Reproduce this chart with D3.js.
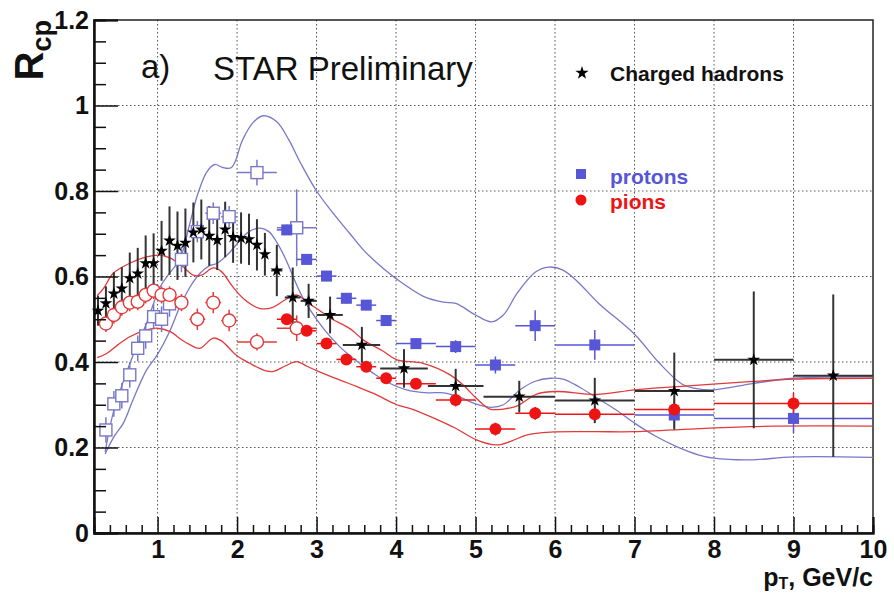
<!DOCTYPE html>
<html><head><meta charset="utf-8">
<script src="https://cdn.jsdelivr.net/npm/d3@7"></script>
<style>
body{margin:0;background:#fff}
svg{display:block}
text{font-family:"Liberation Sans",Arial,Helvetica,sans-serif}
</style>
</head><body>
<svg id="c" width="894" height="594"></svg>
<script>
// ---- axis ticks ----
const xMajor = [1,2,3,4,5,6,7,8,9,10];
const xLabels = ["1","2","3","4","5","6","7","8","9","10"];
const yMajor = [0,0.2,0.4,0.6,0.8,1.0,1.2];
const yLabels = ["0","0.2","0.4","0.6","0.8","1","1.2"];

// ---- charged hadrons (stars) ----
const hX    = [0.25,0.35,0.45,0.55,0.65,0.75,0.85,0.95,1.05,1.15,1.25,1.35,1.45,1.55,1.65,1.75,1.85,1.95,2.05,2.15,2.25,2.35,2.5,2.7,2.9,3.17,3.57,4.1,4.75,5.55,6.5,7.5,8.5,9.5];
const hY    = [0.52,0.537,0.56,0.572,0.596,0.607,0.631,0.631,0.66,0.684,0.672,0.679,0.703,0.71,0.695,0.685,0.71,0.692,0.69,0.687,0.674,0.652,0.614,0.551,0.543,0.51,0.44,0.385,0.344,0.319,0.31,0.332,0.405,0.368];
const hYerr = [0.035,0.04,0.05,0.05,0.06,0.06,0.065,0.07,0.07,0.08,0.08,0.08,0.07,0.07,0.07,0.07,0.065,0.06,0.06,0.06,0.06,0.05,0.06,0.07,0.04,0.043,0.042,0.045,0.04,0.037,0.053,0.09,0.16,0.19];
const hXlo  = [0.25,0.35,0.45,0.55,0.65,0.75,0.85,0.95,1.05,1.15,1.25,1.35,1.45,1.55,1.65,1.75,1.85,1.95,2.05,2.15,2.25,2.35,2.43,2.6,2.8,3.0,3.33,3.8,4.4,5.1,6,7,8,9];
const hXhi  = [0.25,0.35,0.45,0.55,0.65,0.75,0.85,0.95,1.05,1.15,1.25,1.35,1.45,1.55,1.65,1.75,1.85,1.95,2.05,2.15,2.25,2.35,2.57,2.8,3.0,3.33,3.8,4.4,5.1,6.0,7,8,9,10];

// ---- protons, open squares (low pT) ----
const poX    = [0.35,0.45,0.55,0.65,0.75,0.85,0.95,1.05,1.15,1.3,1.5,1.7,1.9,2.25,2.75];
const poY    = [0.241,0.302,0.321,0.37,0.432,0.461,0.506,0.5,0.536,0.64,0.705,0.748,0.74,0.843,0.714];
const poYerr = [0.03,0.03,0.03,0.03,0.03,0.03,0.03,0.03,0.03,0.03,0.025,0.025,0.025,0.03,0.09];
const poXerr = [0.03,0.03,0.03,0.03,0.03,0.03,0.03,0.03,0.03,0.05,0.1,0.1,0.1,0.25,0.25];

// ---- protons, filled squares ----
const pfX    = [2.625,2.875,3.125,3.375,3.625,3.875,4.25,4.75,5.25,5.75,6.5,7.5,9.0];
const pfY    = [0.709,0.64,0.601,0.549,0.533,0.497,0.443,0.436,0.393,0.485,0.44,0.276,0.268];
const pfYerr = [0.012,0.012,0.012,0.012,0.012,0.012,0.012,0.015,0.02,0.036,0.035,0.03,0.035];
const pfXerr = [0.125,0.125,0.125,0.125,0.125,0.125,0.25,0.25,0.25,0.25,0.5,0.5,1.0];

// ---- pions, open circles (low pT) ----
const ioX    = [0.35,0.45,0.55,0.65,0.75,0.85,0.95,1.05,1.15,1.3,1.5,1.7,1.9,2.25,2.75];
const ioY    = [0.49,0.51,0.528,0.539,0.541,0.557,0.567,0.557,0.557,0.539,0.5,0.539,0.497,0.447,0.479];
const ioYerr = [0.02,0.02,0.02,0.02,0.02,0.02,0.02,0.02,0.02,0.02,0.025,0.025,0.025,0.02,0.03];
const ioXerr = [0.03,0.03,0.03,0.03,0.03,0.03,0.03,0.03,0.03,0.05,0.1,0.1,0.1,0.25,0.25];

// ---- pions, filled circles ----
const ifX    = [2.625,2.875,3.125,3.375,3.625,3.875,4.25,4.75,5.25,5.75,6.5,7.5,9.0];
const ifY    = [0.5,0.473,0.443,0.406,0.389,0.362,0.349,0.311,0.243,0.28,0.278,0.289,0.303];
const ifYerr = [0.012,0.012,0.012,0.012,0.012,0.012,0.012,0.015,0.015,0.015,0.018,0.025,0.025];
const ifXerr = [0.125,0.125,0.125,0.125,0.125,0.125,0.25,0.25,0.25,0.25,0.5,0.5,1.0];

// ---- model curves ----
const blueUpX = [0.34,0.44,0.57,0.7,0.86,1.03,1.16,1.28,1.4,1.5,1.62,1.72,1.82,1.93,2.07,2.2,2.33,2.5,2.65,2.8,3.0,3.2,3.42,3.6,3.8,4.0,4.35,4.6,4.75,5.0,5.2,5.35,5.52,5.75,5.92,6.1,6.3,6.55,7.0,7.3,7.6,7.8,8.0,8.5,9.0,10];
const blueUpY = [0.19,0.28,0.355,0.42,0.49,0.575,0.61,0.64,0.72,0.79,0.845,0.862,0.855,0.855,0.92,0.96,0.976,0.962,0.92,0.865,0.80,0.75,0.70,0.66,0.625,0.595,0.553,0.54,0.537,0.51,0.494,0.51,0.56,0.61,0.622,0.615,0.585,0.537,0.465,0.40,0.348,0.337,0.335,0.35,0.362,0.365];
const blueLoX = [0.34,0.45,0.57,0.69,0.86,0.99,1.16,1.28,1.41,1.53,1.65,1.75,1.9,2.04,2.15,2.29,2.4,2.5,2.6,2.67,2.8,2.9,3.1,3.29,3.5,3.71,3.9,4.13,4.4,4.6,4.8,5.0,5.2,5.35,5.56,5.75,5.94,6.1,6.3,6.5,6.75,7.0,7.25,7.53,7.8,8.0,8.45,9.0,10];
const blueLoY = [0.185,0.225,0.257,0.311,0.381,0.415,0.475,0.529,0.576,0.607,0.625,0.631,0.655,0.685,0.705,0.713,0.705,0.68,0.645,0.615,0.56,0.527,0.475,0.436,0.403,0.374,0.352,0.335,0.328,0.328,0.318,0.302,0.294,0.3,0.335,0.355,0.362,0.36,0.342,0.319,0.29,0.257,0.228,0.202,0.183,0.175,0.171,0.178,0.177];
const redUpX = [0.24,0.32,0.44,0.65,0.86,1.03,1.16,1.32,1.45,1.55,1.7,1.8,1.95,2.1,2.29,2.45,2.6,2.75,2.88,3.0,3.2,3.42,3.6,3.84,4.01,4.34,4.68,4.85,5.01,5.18,5.35,5.52,5.77,6.02,6.52,7.0,7.5,8.45,9.0,10];
const redUpY = [0.555,0.572,0.607,0.631,0.646,0.65,0.643,0.623,0.603,0.603,0.62,0.612,0.575,0.545,0.525,0.528,0.545,0.557,0.54,0.525,0.5,0.478,0.45,0.425,0.405,0.397,0.37,0.345,0.315,0.29,0.29,0.297,0.325,0.331,0.324,0.335,0.342,0.354,0.36,0.362];
const redLoX = [0.24,0.36,0.5,0.65,0.86,0.99,1.16,1.3,1.41,1.53,1.7,1.8,1.99,2.16,2.35,2.46,2.6,2.75,2.88,3.0,3.29,3.5,3.71,4.01,4.2,4.51,4.75,5.01,5.27,5.45,5.64,5.94,6.5,7.0,8.45,10];
const redLoY = [0.41,0.42,0.44,0.459,0.475,0.479,0.471,0.452,0.44,0.432,0.456,0.45,0.416,0.397,0.38,0.378,0.39,0.401,0.39,0.38,0.358,0.343,0.327,0.3,0.29,0.266,0.245,0.218,0.206,0.215,0.229,0.236,0.237,0.237,0.249,0.25];

// ---- legend ----
const legendNames = ["Charged hadrons","protons","pions"];

// =========================================================
const svg = d3.select("#c");
const x = d3.scaleLinear().domain([0.2,10]).range([94,873]);
const y = d3.scaleLinear().domain([0,1.2]).range([533,20]);

const FONT = '"Liberation Sans",Arial,Helvetica,sans-serif';
const blueC = "#7878c8", redC = "#e23a3a";
const protC = "#5656d6", pionC = "#ee1414";

// grid
const grid = svg.append("g").attr("stroke","#555").attr("stroke-width",1).attr("stroke-dasharray","1.5,2.5");
grid.selectAll("line.gx").data(xMajor.filter(v=>v<10)).join("line")
  .attr("x1",d=>x(d)).attr("x2",d=>x(d)).attr("y1",y(1.2)).attr("y2",y(0));
grid.selectAll("line.gy").data(yMajor.filter(v=>v>0 && v<1.2)).join("line")
  .attr("class","gy").attr("x1",x(0.2)).attr("x2",x(10)).attr("y1",d=>y(d)).attr("y2",d=>y(d));

// frame (top, right)
svg.append("rect").attr("x",x(0.2)).attr("y",y(1.2)).attr("width",x(10)-x(0.2)).attr("height",y(0)-y(1.2))
  .attr("fill","none").attr("stroke","#222").attr("stroke-width",1.5);

// curves
const line = d3.line().x(d=>x(d[0])).y(d=>y(d[1])).curve(d3.curveCatmullRom.alpha(0.5));
const curves = [[blueUpX,blueUpY,blueC],[blueLoX,blueLoY,blueC],[redUpX,redUpY,redC],[redLoX,redLoY,redC]];
curves.forEach(([xs,ys,c])=>{
  svg.append("path").datum(xs.map((v,i)=>[v,ys[i]])).attr("d",line)
    .attr("fill","none").attr("stroke",c).attr("stroke-width",1.3);
});

// error bar helper
function errs(xs,ys,yerr,xlo,xhi,color,w){
  const g = svg.append("g").attr("stroke",color).attr("stroke-width",w);
  xs.forEach((v,i)=>{
    g.append("line").attr("x1",x(v)).attr("x2",x(v)).attr("y1",y(ys[i]-yerr[i])).attr("y2",y(ys[i]+yerr[i]));
    if (xhi[i]-xlo[i] > 0) g.append("line").attr("x1",x(xlo[i])).attr("x2",x(xhi[i])).attr("y1",y(ys[i])).attr("y2",y(ys[i]));
  });
}
errs(poX,poY,poYerr,poX.map((v,i)=>v-poXerr[i]),poX.map((v,i)=>v+poXerr[i]),blueC,1.5);
errs(ioX,ioY,ioYerr,ioX.map((v,i)=>v-ioXerr[i]),ioX.map((v,i)=>v+ioXerr[i]),redC,1.5);
errs(pfX,pfY,pfYerr,pfX.map((v,i)=>v-pfXerr[i]),pfX.map((v,i)=>v+pfXerr[i]),protC,1.5);
errs(ifX,ifY,ifYerr,ifX.map((v,i)=>v-ifXerr[i]),ifX.map((v,i)=>v+ifXerr[i]),pionC,1.5);
errs(hX,hY,hYerr,hXlo,hXhi,"#333",2);

// markers
svg.append("g").selectAll("rect").data(poX).join("rect")
  .attr("x",(d)=>x(d)-6).attr("y",(d,i)=>y(poY[i])-6).attr("width",12).attr("height",12)
  .attr("fill","#fff").attr("stroke",blueC).attr("stroke-width",1.4);
svg.append("g").selectAll("circle").data(ioX).join("circle")
  .attr("cx",d=>x(d)).attr("cy",(d,i)=>y(ioY[i])).attr("r",6.5)
  .attr("fill","#fff").attr("stroke",redC).attr("stroke-width",1.4);
svg.append("g").selectAll("rect").data(pfX).join("rect")
  .attr("x",d=>x(d)-5.5).attr("y",(d,i)=>y(pfY[i])-5.5).attr("width",11).attr("height",11)
  .attr("fill",protC);
svg.append("g").selectAll("circle").data(ifX).join("circle")
  .attr("cx",d=>x(d)).attr("cy",(d,i)=>y(ifY[i])).attr("r",6)
  .attr("fill",pionC);
const star = d3.symbol().type(d3.symbolStar).size(50);
svg.append("g").selectAll("path").data(hX).join("path")
  .attr("d",star).attr("transform",(d,i)=>`translate(${x(d)},${y(hY[i])})`).attr("fill","#000");

// axes
const ax = svg.append("g").attr("transform",`translate(0,${y(0)})`)
  .call(d3.axisBottom(x).tickValues(xMajor).tickSize(-16).tickPadding(10).tickFormat((d,i)=>xLabels[i]));
const xMinor = d3.range(0.4,10,0.2).filter(v=>Math.abs(v-Math.round(v))>1e-6);
svg.append("g").attr("transform",`translate(0,${y(0)})`)
  .call(d3.axisBottom(x).tickValues(xMinor).tickSize(-8).tickFormat(""));
const ay = svg.append("g").attr("transform",`translate(${x(0.2)},0)`)
  .call(d3.axisLeft(y).tickValues(yMajor).tickSize(-24).tickPadding(5).tickFormat((d,i)=>yLabels[i]));
const yMinor = d3.range(0.05,1.2,0.05).filter(v=>Math.abs(v*5-Math.round(v*5))>1e-6);
svg.append("g").attr("transform",`translate(${x(0.2)},0)`)
  .call(d3.axisLeft(y).tickValues(yMinor).tickSize(-12).tickFormat(""));
svg.selectAll(".domain").attr("stroke","#111").attr("stroke-width",2);
svg.selectAll(".tick line").attr("stroke","#111").attr("stroke-width",1.5);
svg.selectAll(".tick text").attr("font-family",FONT).attr("font-weight","bold").attr("font-size",25).attr("fill","#111");
ax.selectAll(".tick text").attr("dy","0.71em").attr("y",7);

// axis titles
const yt = svg.append("text").attr("transform","translate(43,20) rotate(-90)")
  .attr("text-anchor","end").attr("font-weight","bold").attr("fill","#111");
yt.append("tspan").attr("font-size",40).text("R");
yt.append("tspan").attr("font-size",27).attr("dy",8).text("cp");
const xt = svg.append("text").attr("x",873).attr("y",586).attr("text-anchor","end")
  .attr("font-weight","bold").attr("fill","#111").attr("font-size",25);
xt.append("tspan").text("p");
xt.append("tspan").attr("font-size",16).attr("dy",3).text("T");
xt.append("tspan").attr("dy",-3).text(", GeV/c");

// labels
svg.append("text").attr("x",141).attr("y",78).attr("font-size",33).attr("fill","#111").text("a)");
svg.append("text").attr("x",213).attr("y",80).attr("font-size",33).attr("fill","#111").text("STAR Preliminary");

// legend
svg.append("path").attr("d",d3.symbol().type(d3.symbolStar).size(55)).attr("transform","translate(582,73)").attr("fill","#000");
svg.append("text").attr("x",610).attr("y",81).attr("font-size",21).attr("font-weight","bold").attr("fill","#111").text(legendNames[0]);
svg.append("rect").attr("x",576).attr("y",169).attr("width",10).attr("height",10).attr("fill",protC);
svg.append("text").attr("x",610).attr("y",184).attr("font-size",21).attr("font-weight","bold").attr("fill",protC).text(legendNames[1]);
svg.append("circle").attr("cx",581).attr("cy",200).attr("r",5.5).attr("fill",pionC);
svg.append("text").attr("x",610).attr("y",209).attr("font-size",21).attr("font-weight","bold").attr("fill",pionC).text(legendNames[2]);
</script>
</body></html>
